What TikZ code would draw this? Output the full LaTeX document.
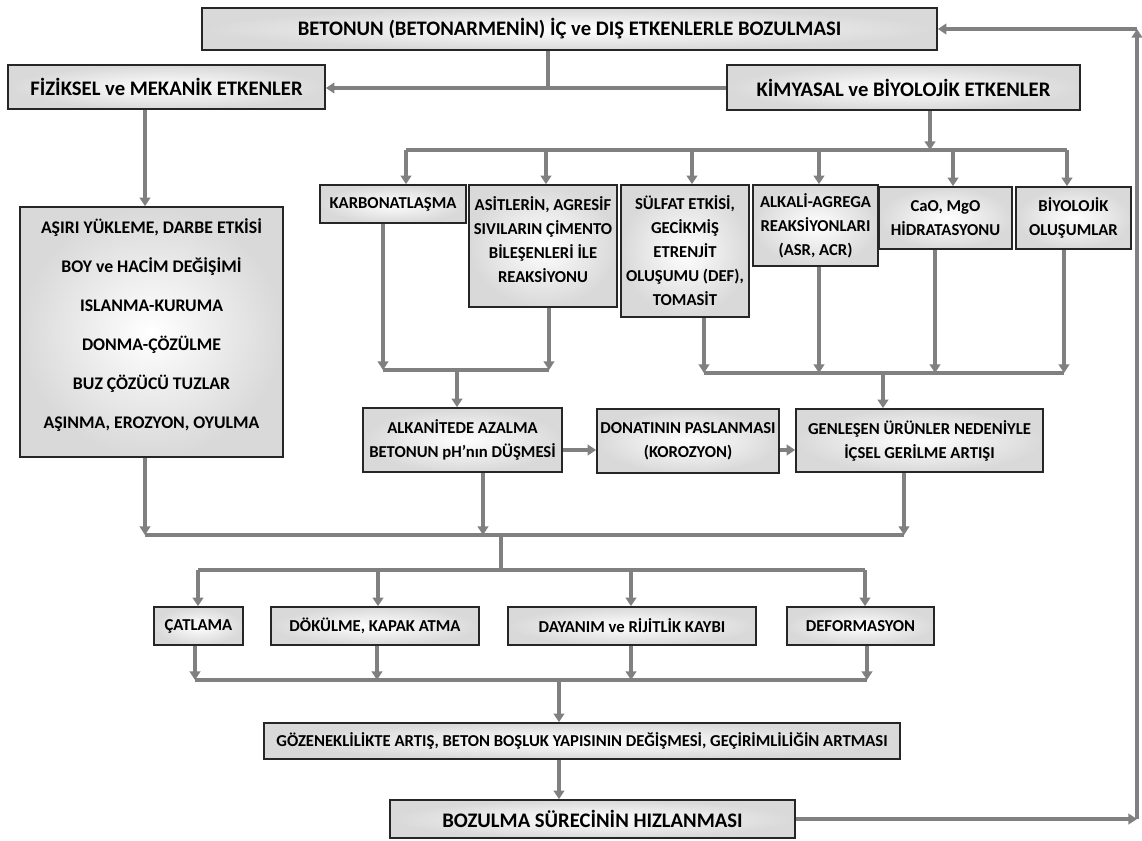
\documentclass[tikz,border=0pt]{standalone}
\usepackage{fontspec}
\setmainfont{Carlito}
\usetikzlibrary{arrows.meta,fit}
\newcommand{\boxfont}{\bfseries\fontsize{12.5}{18}\selectfont}
\newcommand{\headfont}{\bfseries\fontsize{15.5}{18}\selectfont}
\begin{document}
\begin{tikzpicture}[x=0.75pt,y=-0.75pt,
  box/.style={draw=black!85, line width=1.2pt, inner sep=0pt,
    inner color=white, outer color=black!15},
  lbl/.style={align=center, inner sep=0pt, font=\boxfont},
  head/.style={lbl, font=\headfont},
  conn/.style={draw=black!50, line width=2.5pt},
  arr/.style={conn, -{Triangle[width=8pt,length=6.5pt]}},
]
\useasboundingbox (0,0) rectangle (1142,840);

% ---- boxes ----
\node[box, fit={(202,8) (937,50)}] (top) {};
\node[box, fit={(8,65) (325,109)}] (fiz) {};
\node[box, fit={(727,65) (1080,110)}] (kim) {};
\node[box, fit={(20,207) (283,457)}] (big) {};
\node[box, fit={(320,185) (466,223)}] (karb) {};
\node[box, fit={(469,185) (617,307)}] (asit) {};
\node[box, fit={(621,185) (749,317)}] (sulf) {};
\node[box, fit={(753,185) (878,266)}] (alk) {};
\node[box, fit={(879,187) (1012,249)}] (cao) {};
\node[box, fit={(1016,187) (1131,249)}] (biyo) {};
\node[box, fit={(363,408) (562,472)}] (alkn) {};
\node[box, fit={(597,409) (779,473)}] (don) {};
\node[box, fit={(796,409) (1043,472)}] (gen) {};
\node[box, fit={(154,607) (243,645)}] (cat) {};
\node[box, fit={(271,607) (479,645)}] (dok) {};
\node[box, fit={(508,607) (756,645)}] (day) {};
\node[box, fit={(787,607) (934,645)}] (def) {};
\node[box, fit={(264,723) (900,759)}] (goz) {};
\node[box, fit={(390,800) (795,838)}] (boz) {};

% ---- box texts ----
\node[head] (topT) at (top) {BETONUN (BETONARMENİN) İÇ ve DIŞ ETKENLERLE BOZULMASI};
\node[head] (fizT) at (fiz) {FİZİKSEL ve MEKANİK ETKENLER};
\node[head] (kimT) at (kim) {KİMYASAL ve BİYOLOJİK ETKENLER};
\node[lbl, font=\bfseries\fontsize{13.3}{29.3}\selectfont, yshift=5pt] (bigT) at (big)
  {AŞIRI YÜKLEME, DARBE ETKİSİ\\ BOY ve HACİM DEĞİŞİMİ\\ ISLANMA-KURUMA\\
   DONMA-ÇÖZÜLME\\ BUZ ÇÖZÜCÜ TUZLAR\\ AŞINMA, EROZYON, OYULMA};
\node[lbl] (karbT) at (karb) {KARBONATLAŞMA};
\node[lbl, yshift=4.5pt] (asitT) at (asit)
  {ASİTLERİN, AGRESİF\\ SIVILARIN ÇİMENTO\\ BİLEŞENLERİ İLE\\ REAKSİYONU};
\node[lbl] (sulfT) at (sulf)
  {SÜLFAT ETKİSİ,\\ GECİKMİŞ\\ ETRENJİT\\ OLUŞUMU (DEF),\\ TOMASİT};
\node[lbl] (alkT) at (alk) {ALKALİ-AGREGA\\ REAKSİYONLARI\\ (ASR, ACR)};
\node[lbl] (caoT) at (cao) {CaO, MgO\\ HİDRATASYONU};
\node[lbl] (biyoT) at (biyo) {BİYOLOJİK\\ OLUŞUMLAR};
\node[lbl] (alknT) at (alkn) {ALKANİTEDE AZALMA\\ BETONUN pH’nın DÜŞMESİ};
\node[lbl] (donT) at (don) {DONATININ PASLANMASI\\ (KOROZYON)};
\node[lbl] (genT) at (gen) {GENLEŞEN ÜRÜNLER NEDENİYLE\\ İÇSEL GERİLME ARTIŞI};
\node[lbl] (catT) at (cat) {ÇATLAMA};
\node[lbl] (dokT) at (dok) {DÖKÜLME, KAPAK ATMA};
\node[lbl] (dayT) at (day) {DAYANIM ve RİJİTLİK KAYBI};
\node[lbl] (defT) at (def) {DEFORMASYON};
\node[lbl] (gozT) at (goz)
  {GÖZENEKLİLİKTE ARTIŞ, BETON BOŞLUK YAPISININ DEĞİŞMESİ, GEÇİRİMLİLİĞİN ARTMASI};
\node[head] (bozT) at (boz) {BOZULMA SÜRECİNİN HIZLANMASI};

% ---- top split ----
\coordinate (a1) at (548,88);
\draw[conn] (top.south -| a1) -- (a1);
\draw[arr] (kim.west |- a1) -- (fiz.east |- a1);
\coordinate (a2) at (145,0);
\draw[arr] (fiz.south -| a2) -- (big.north -| a2);

% ---- chemical causes ----
\coordinate (b0) at (930,150);
\coordinate (bL) at (406,150);
\coordinate (b2) at (546,150);
\coordinate (b3) at (692,150);
\coordinate (b4) at (819,150);
\coordinate (b5) at (953,150);
\coordinate (bR) at (1067,150);
\draw[arr] (kim.south -| b0) -- (b0);
\draw[conn] (bL) -- (bR);
\draw[arr] (bL) -- (karb.north -| bL);
\draw[arr] (b2) -- (asit.north -| b2);
\draw[arr] (b3) -- (sulf.north -| b3);
\draw[arr] (b4) -- (alk.north -| b4);
\draw[arr] (b5) -- (cao.north -| b5);
\draw[arr] (bR) -- (biyo.north -| bR);

% ---- alkalinity branch ----
\coordinate (c1) at (383,370);
\coordinate (c2) at (549,370);
\coordinate (c0) at (457,370);
\draw[arr] (karb.south -| c1) -- (c1);
\draw[arr] (asit.south -| c2) -- (c2);
\draw[conn] (c1) -- (c2);
\draw[arr] (c0) -- (alkn.north -| c0);

% ---- expansion branch ----
\coordinate (d1) at (704,373);
\coordinate (d2) at (819,373);
\coordinate (d3) at (935,373);
\coordinate (d4) at (1064,373);
\coordinate (d0) at (883,373);
\draw[arr] (sulf.south -| d1) -- (d1);
\draw[arr] (alk.south -| d2) -- (d2);
\draw[arr] (cao.south -| d3) -- (d3);
\draw[arr] (biyo.south -| d4) -- (d4);
\draw[conn] (d1) -- (d4);
\draw[arr] (d0) -- (gen.north -| d0);

% ---- corrosion chain ----
\coordinate (e1) at (0,450);
\draw[arr] (alkn.east |- e1) -- (don.west |- e1);
\draw[arr] (don.east |- e1) -- (gen.west |- e1);

% ---- merge into damage ----
\coordinate (f1) at (145,535);
\coordinate (f2) at (483,535);
\coordinate (f3) at (904,535);
\coordinate (f0) at (501,535);
\coordinate (g0) at (501,570);
\draw[arr] (big.south -| f1) -- (f1);
\draw[arr] (alkn.south -| f2) -- (f2);
\draw[arr] (gen.south -| f3) -- (f3);
\draw[conn] (f1) -- (f3);
\draw[conn] (f0) -- (g0);

\coordinate (g1) at (198,570);
\coordinate (g2) at (378,570);
\coordinate (g3) at (631,570);
\coordinate (g4) at (865,570);
\draw[conn] (g1) -- (g4);
\draw[arr] (g1) -- (cat.north -| g1);
\draw[arr] (g2) -- (dok.north -| g2);
\draw[arr] (g3) -- (day.north -| g3);
\draw[arr] (g4) -- (def.north -| g4);

\coordinate (h1) at (195,680);
\coordinate (h2) at (377,680);
\coordinate (h3) at (631,680);
\coordinate (h4) at (867,680);
\coordinate (h0) at (559,680);
\draw[arr] (cat.south -| h1) -- (h1);
\draw[arr] (dok.south -| h2) -- (h2);
\draw[arr] (day.south -| h3) -- (h3);
\draw[arr] (def.south -| h4) -- (h4);
\draw[conn] (h1) -- (h4);
\draw[arr] (h0) -- (goz.north -| h0);
\draw[arr] (goz.south -| h0) -- (boz.north -| h0);

% ---- feedback loop ----
\coordinate (r1) at (1137,0);
\coordinate (r2) at (1137,29);
\draw[arr] (boz.east) -- (boz.east -| r1);
\draw[arr] (boz.east -| r1) -- (r2);
\draw[arr] (r2) -- (top.east |- r2);
\end{tikzpicture}
\end{document}
